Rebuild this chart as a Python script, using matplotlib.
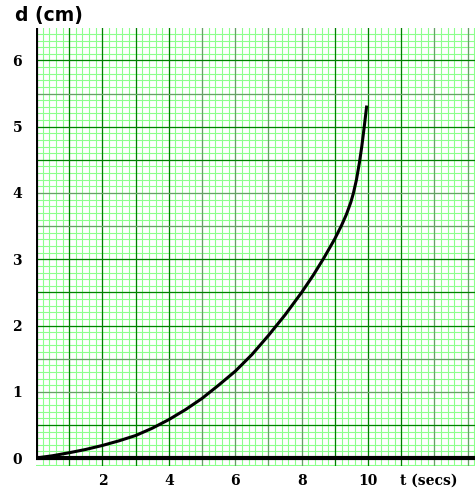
import matplotlib
matplotlib.use("Agg")
import matplotlib.pyplot as plt
import numpy as np

# values
t_vals = [0, 0.5, 1, 1.5, 2, 2.5, 3, 3.5, 4, 4.5, 5, 5.5, 6, 6.5, 7, 7.5, 8,
          8.35, 8.67, 9, 9.2, 9.35, 9.48, 9.56, 9.65, 9.74, 9.81, 9.88, 9.96]
d_vals = [0, 0.035, 0.08, 0.13, 0.19, 0.26, 0.34, 0.45, 0.58, 0.73, 0.90, 1.10, 1.31, 1.56, 1.85, 2.16, 2.5,
          2.76, 3.02, 3.31, 3.51, 3.68, 3.86, 4.0, 4.2, 4.46, 4.7, 4.98, 5.32]

x_ticks = [2, 4, 6, 8, 10]
y_ticks = [0, 1, 2, 3, 4, 5, 6]

xmin, xmax = 0, 13.22
ymin, ymax = -0.12, 6.49

dark = "#008000"
grey = "#66a066"
minor_col = "#8cff8c"

fig = plt.figure(figsize=(4.75, 4.94), dpi=100)
ax = fig.add_axes([36 / 475, 28 / 494, 1 - 36 / 475, (466 - 28) / 494])

# graph-paper grid
for x in np.arange(0.2, xmax, 0.2):
    ax.axvline(x, color=minor_col, lw=0.8, zorder=1)
for y in np.arange(-0.1, ymax, 0.1):
    ax.axhline(y, color=minor_col, lw=0.8, zorder=1)

v_grey = {5, 6, 7, 8, 12, 13}
for x in range(1, 14):
    ax.axvline(x, color=grey if x in v_grey else dark, lw=0.9, zorder=2)
h_grey = {1.0, 1.5, 3.5, 4.0, 5.5}
for y in np.arange(0.5, 6.5, 0.5):
    ax.axhline(y, color=grey if round(y, 1) in h_grey else dark, lw=0.9, zorder=2)

# axes lines
ax.plot([xmin, xmax], [0, 0], color="black", lw=3, zorder=4, solid_capstyle="butt")
ax.plot([0, 0], [0, ymax], color="black", lw=3, zorder=4, solid_capstyle="butt")

ax.plot(t_vals, d_vals, color="black", lw=2.2, zorder=5, solid_capstyle="butt")

ax.set_xlim(xmin, xmax)
ax.set_ylim(ymin, ymax)
for s in ax.spines.values():
    s.set_visible(False)

ax.set_xticks(x_ticks)
ax.set_yticks(y_ticks)
ax.tick_params(length=0, pad=6)
ax.tick_params(axis="y", pad=10)
for lab in ax.get_xticklabels() + ax.get_yticklabels():
    lab.set_fontfamily("DejaVu Serif")
    lab.set_fontweight("bold")
    lab.set_fontsize(10)

fig.text(400 / 475, 1 - 481 / 494, "t (secs)", family="DejaVu Serif", weight="bold",
         fontsize=10, ha="left", va="center")
fig.text(15 / 475, 1 - 16 / 494, "d (cm)", family="DejaVu Sans", weight="bold",
         fontsize=13.5, ha="left", va="center")

fig.savefig("out.png", dpi=100)
